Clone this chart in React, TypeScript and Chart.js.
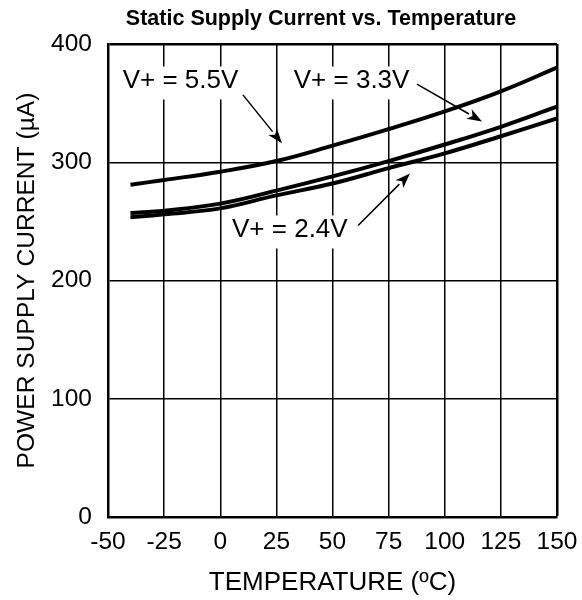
import React, { useEffect, useRef } from 'react';
import { Chart, registerables } from 'chart.js';

Chart.register(...registerables);

// ---- data ----
const temperatures = [-40, -25, 0, 25, 50, 75, 100, 125, 150];
const current55 = [281, 285, 292, 301, 314, 328, 343, 360, 380];
const current33 = [257, 259, 265, 276, 288, 301, 315, 330, 347];
const current24 = [253.5, 256, 261, 272, 282, 295, 307.5, 322, 337];
const xTickValues = [-50, -25, 0, 25, 50, 75, 100, 125, 150];
const yTickValues = [0, 100, 200, 300, 400];

const chartTitle = 'Static Supply Current vs. Temperature';
const xTitle = 'TEMPERATURE (ºC)';
const yTitle = 'POWER SUPPLY CURRENT (µA)';

// callouts in data coordinates (°C, µA)
const callouts = [
  { text: 'V+ = 5.5V', lx: -17.7, ly: 370, fx: 10.1, fy: 357, tx: 27.5, ty: 316 },
  { text: 'V+ = 3.3V', lx: 58.5, ly: 370, fx: 87.6, fy: 366, tx: 116.6, ty: 334.5 },
  { text: 'V+ = 2.4V', lx: 31, ly: 244, fx: 61.4, fy: 246.5, tx: 84.5, ty: 290.5 },
];

const FONT = "'Liberation Sans', Arial, Helvetica, sans-serif";

const toPoints = (ys: number[]) => temperatures.map((t, i) => ({ x: t, y: ys[i] }));

const annotationPlugin = {
  id: 'callouts',
  afterDatasetsDraw(chart: any) {
    const ctx = chart.ctx;
    const xs = chart.scales.x;
    const ys = chart.scales.y;
    ctx.save();
    ctx.font = `26px ${FONT}`;
    ctx.textAlign = 'center';
    ctx.textBaseline = 'middle';
    for (const c of callouts) {
      const px = xs.getPixelForValue(c.lx);
      const py = ys.getPixelForValue(c.ly);
      const w = ctx.measureText(c.text).width;
      ctx.fillStyle = '#fff';
      ctx.fillRect(px - w / 2 - 3, py - 13, w + 6, 33);
      ctx.fillStyle = '#000';
      ctx.fillText(c.text, px, py + 1);
      // arrow
      const x1 = xs.getPixelForValue(c.fx);
      const y1 = ys.getPixelForValue(c.fy);
      const x2 = xs.getPixelForValue(c.tx);
      const y2 = ys.getPixelForValue(c.ty);
      const ang = Math.atan2(y2 - y1, x2 - x1);
      const hl = 15;
      const hw = 5.5;
      const bx = x2 - hl * Math.cos(ang);
      const by = y2 - hl * Math.sin(ang);
      ctx.strokeStyle = '#000';
      ctx.lineWidth = 1.5;
      ctx.beginPath();
      ctx.moveTo(x1, y1);
      ctx.lineTo(bx, by);
      ctx.stroke();
      ctx.beginPath();
      ctx.moveTo(x2, y2);
      ctx.lineTo(bx + hw * Math.sin(ang), by - hw * Math.cos(ang));
      ctx.lineTo(x2 - (hl - 4) * Math.cos(ang), y2 - (hl - 4) * Math.sin(ang));
      ctx.lineTo(bx - hw * Math.sin(ang), by + hw * Math.cos(ang));
      ctx.closePath();
      ctx.fill();
    }
    ctx.restore();
  },
  afterDraw(chart: any) {
    const ctx = chart.ctx;
    ctx.save();
    ctx.font = `bold 21.5px ${FONT}`;
    ctx.fillStyle = '#000';
    ctx.textAlign = 'center';
    ctx.textBaseline = 'middle';
    ctx.fillText(chartTitle, 321, 19);
    ctx.restore();
  },
};

export default function App() {
  const ref = useRef<HTMLCanvasElement>(null);
  useEffect(() => {
    if (!ref.current) return;
    const lineStyle = {
      borderColor: '#000',
      borderWidth: 4,
      pointRadius: 0,
      fill: false,
      tension: 0.4,
    };
    const chart = new Chart(ref.current, {
      type: 'line',
      data: {
        datasets: [
          { label: 'V+ = 5.5V', data: toPoints(current55), ...lineStyle },
          { label: 'V+ = 3.3V', data: toPoints(current33), ...lineStyle },
          { label: 'V+ = 2.4V', data: toPoints(current24), ...lineStyle },
        ],
      },
      options: {
        animation: false,
        responsive: false,
        events: [],
        layout: { padding: { top: 44, right: 25, left: 0, bottom: 0 } },
        plugins: {
          legend: { display: false },
          title: { display: false },
          tooltip: { enabled: false },
        },
        scales: {
          x: {
            type: 'linear',
            min: -50,
            max: 150,
            afterBuildTicks: (s: any) => {
              s.ticks = xTickValues.map((v) => ({ value: v }));
            },
            afterFit: (s: any) => {
              s.height = 83;
              s.paddingLeft = 0;
              s.paddingRight = 0;
            },
            ticks: {
              color: '#000',
              font: { family: FONT, size: 24.5 },
              padding: 11,
              maxRotation: 0,
              autoSkip: false,
            },
            grid: {
              color: '#000',
              lineWidth: (c: any) => (c.tick && c.tick.value === 150 ? 2.5 : 1.5),
              drawTicks: false,
            },
            border: { display: true, color: '#000', width: 2.5 },
            title: {
              display: true,
              text: xTitle,
              color: '#000',
              font: { family: FONT, size: 26 },
              padding: { top: 0, bottom: 2 },
            },
          },
          y: {
            type: 'linear',
            min: 0,
            max: 400,
            afterBuildTicks: (s: any) => {
              s.ticks = yTickValues.map((v) => ({ value: v }));
            },
            afterFit: (s: any) => {
              s.width = 108;
              s.paddingTop = 0;
              s.paddingBottom = 0;
            },
            ticks: {
              color: '#000',
              font: { family: FONT, size: 24.5 },
              padding: 16,
            },
            grid: {
              color: '#000',
              lineWidth: (c: any) => (c.tick && c.tick.value === 400 ? 2.5 : 1.5),
              drawTicks: false,
            },
            border: { display: true, color: '#000', width: 2.5 },
            title: {
              display: true,
              text: yTitle,
              color: '#000',
              font: { family: FONT, size: 24.6 },
              padding: { top: 12, bottom: 0 },
            },
          },
        },
      },
      plugins: [annotationPlugin],
    });
    return () => chart.destroy();
  }, []);
  return (
    <canvas
      ref={ref}
      width={582}
      height={600}
      style={{ position: 'absolute', left: 0, top: 0, width: 582, height: 600 }}
    />
  );
}
